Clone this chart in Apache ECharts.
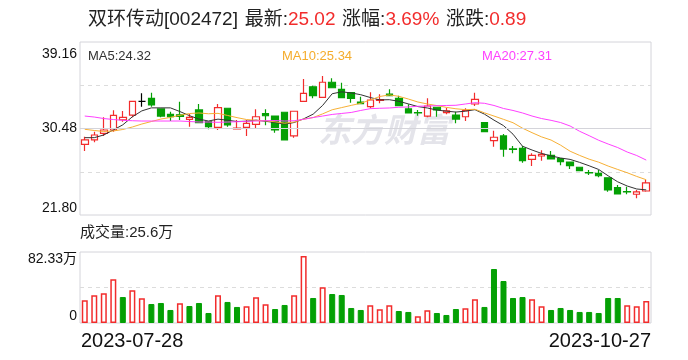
<!DOCTYPE html>
<html>
<head>
<meta charset="utf-8">
<title>双环传动 日K</title>
<script src="https://cdn.jsdelivr.net/npm/echarts@6/dist/echarts.min.js"></script>
<style>
  html, body { margin: 0; padding: 0; background: #fff; }
  #chart { width: 688px; height: 360px; }
</style>
</head>
<body>
<div id="chart"></div>
<script>
  // 交易日 2023-07-28 ~ 2023-10-27
  var dates = [
    '2023-07-28', '2023-07-31',
    '2023-08-01', '2023-08-02', '2023-08-03', '2023-08-04', '2023-08-07', '2023-08-08', '2023-08-09', '2023-08-10',
    '2023-08-11', '2023-08-14', '2023-08-15', '2023-08-16', '2023-08-17', '2023-08-18', '2023-08-21', '2023-08-22',
    '2023-08-23', '2023-08-24', '2023-08-25', '2023-08-28', '2023-08-29', '2023-08-30', '2023-08-31',
    '2023-09-01', '2023-09-04', '2023-09-05', '2023-09-06', '2023-09-07', '2023-09-08', '2023-09-11', '2023-09-12',
    '2023-09-13', '2023-09-14', '2023-09-15', '2023-09-18', '2023-09-19', '2023-09-20', '2023-09-21', '2023-09-22',
    '2023-09-25', '2023-09-26', '2023-09-27', '2023-09-28',
    '2023-10-09', '2023-10-10', '2023-10-11', '2023-10-12', '2023-10-13', '2023-10-16', '2023-10-17', '2023-10-18',
    '2023-10-19', '2023-10-20', '2023-10-23', '2023-10-24', '2023-10-25', '2023-10-26', '2023-10-27'
  ];

  var opens = [
    28.89, 29.33, 30.00, 30.33, 31.36, 31.83, 33.21, 33.51, 32.44, 31.90,
    31.86, 31.40, 32.34, 31.16, 30.60, 32.51, 30.43, 30.60, 30.90, 31.97,
    31.73, 32.11, 29.73, 33.21, 34.67, 33.61, 35.12, 34.41, 34.07, 33.14,
    32.67, 33.31, 33.94, 33.51, 32.44, 32.08, 31.73, 32.61, 32.07, 31.83,
    31.66, 32.94, 31.06, 29.26, 29.73, 28.43, 28.49, 27.39, 27.72, 27.79,
    27.45, 27.12, 26.59, 26.06, 25.98, 25.54, 24.54, 24.16, 23.88, 24.21
  ];
  var closes = [
    29.33, 29.83, 30.33, 31.80, 31.60, 33.21, 33.21, 32.84, 31.73, 31.66,
    31.70, 31.60, 31.06, 30.66, 32.57, 30.83, 30.53, 31.00, 31.66, 31.76,
    30.33, 29.33, 32.21, 34.01, 33.77, 35.12, 34.57, 33.57, 33.51, 32.97,
    33.34, 33.37, 33.77, 32.77, 32.04, 32.05, 32.74, 32.34, 32.24, 31.43,
    32.27, 33.41, 30.16, 29.60, 28.42, 28.39, 27.25, 27.79, 27.89, 27.42,
    27.15, 26.75, 26.25, 26.03, 25.74, 24.31, 23.91, 24.12, 24.13, 25.02
  ];
  var lows = [
    28.22, 29.09, 29.73, 30.16, 31.16, 31.60, 32.67, 32.67, 31.60, 31.23,
    31.33, 30.66, 31.00, 30.40, 30.33, 30.66, 30.40, 29.73, 30.50, 30.80,
    30.06, 29.33, 29.56, 33.21, 33.51, 33.61, 34.57, 33.57, 33.07, 32.97,
    32.51, 33.01, 33.77, 32.77, 32.01, 31.77, 31.60, 31.66, 31.90, 31.00,
    31.23, 32.74, 30.16, 28.65, 27.65, 28.00, 27.05, 26.72, 27.25, 27.42,
    26.79, 26.42, 26.25, 25.81, 25.58, 24.14, 23.91, 23.88, 23.47, 24.14
  ];
  var highs = [
    29.66, 30.16, 31.60, 32.30, 32.24, 33.21, 34.01, 34.07, 32.51, 32.17,
    33.17, 31.93, 32.94, 31.16, 32.94, 32.51, 31.33, 31.33, 32.41, 32.41,
    31.73, 32.11, 32.21, 35.45, 34.77, 35.75, 35.52, 35.08, 34.07, 33.67,
    34.11, 33.91, 34.41, 33.77, 32.91, 32.34, 33.51, 32.61, 32.57, 32.17,
    32.51, 34.07, 31.06, 30.26, 29.93, 28.72, 28.72, 27.99, 28.29, 28.22,
    27.45, 27.12, 26.59, 26.32, 26.32, 25.54, 24.81, 24.64, 24.31, 25.31
  ];

  var ma5 = [
    29.56, 29.56, 29.83, 30.33, 30.85, 31.65, 32.25, 32.55, 32.55, 32.55,
    32.18, 31.77, 31.42, 31.23, 31.42, 31.31, 31.18, 31.21, 31.32, 31.20,
    31.08, 30.92, 31.08, 31.45, 31.92, 32.80, 33.97, 34.16, 34.05, 33.87,
    33.59, 33.35, 33.37, 33.21, 32.95, 32.68, 32.54, 32.33, 32.22, 32.13,
    32.22, 32.37, 31.92, 31.32, 30.77, 29.91, 28.70, 28.32, 27.98, 27.73,
    27.52, 27.38, 27.08, 26.74, 26.37, 25.73, 25.13, 24.71, 24.41, 24.32
  ];
  var ma10 = [
    30.40, 30.28, 30.18, 30.23, 30.38, 30.63, 30.93, 31.18, 31.43, 31.59,
    31.81, 31.98, 32.04, 31.96, 32.00, 31.79, 31.57, 31.38, 31.30, 31.25,
    31.15, 31.01, 31.13, 31.42, 31.58, 31.95, 32.36, 32.58, 32.80, 33.01,
    33.34, 33.69, 33.85, 33.71, 33.44, 33.14, 32.94, 32.78, 32.60, 32.46,
    32.37, 32.41, 32.05, 31.73, 31.40, 31.06, 30.51, 30.06, 29.64, 29.32,
    28.81, 28.20, 27.78, 27.40, 27.10, 26.71, 26.37, 26.04, 25.67, 25.34
  ];
  var ma20 = [
    31.73, 31.63, 31.48, 31.38, 31.30, 31.26, 31.23, 31.23, 31.23, 31.23,
    31.23, 31.18, 31.13, 31.13, 31.10, 31.13, 31.16, 31.20, 31.23, 31.26,
    31.28, 31.23, 31.26, 31.40, 31.58, 31.73, 31.89, 31.99, 32.09, 32.29,
    32.47, 32.51, 32.54, 32.61, 32.64, 32.71, 32.74, 32.77, 32.79, 32.81,
    32.94, 33.07, 33.01, 32.79, 32.49, 32.29, 32.04, 31.73, 31.48, 31.30,
    31.08, 30.73, 30.20, 29.76, 29.30, 28.92, 28.57, 28.12, 27.77, 27.31
  ];

  // 成交量 (万)
  var volumes = [
    26.3, 32.1, 34.4, 50.7, 30.1, 37.9, 28.6, 22.0, 23.2, 15.1,
    22.8, 19.7, 23.2, 11.6, 32.1, 24.4, 18.6, 19.3, 29.8, 21.7,
    16.2, 20.9, 32.1, 77.7, 29.0, 41.4, 33.6, 32.5, 17.4, 15.1,
    20.5, 15.9, 20.5, 13.9, 12.8, 7.8, 14.7, 11.6, 9.3, 16.2,
    17.0, 27.5, 18.6, 62.6, 48.7, 29.0, 30.1, 27.5, 19.3, 15.1,
    17.4, 15.1, 12.8, 12.8, 11.6, 29.0, 29.0, 20.5, 19.3, 25.6
  ];

  var priceTicks = ['21.80', '30.48', '39.16'];
  var volTicks = ['0', '82.33万'];
  var stockName = '双环传动[002472]';

  var RED = '#f22c2c';
  var GREEN = '#04a004';
  var FONT = "'Liberation Sans', 'Noto Sans CJK SC', sans-serif";

  var n = closes.length;
  var priceMin = parseFloat(priceTicks[0]);
  var priceMax = parseFloat(priceTicks[2]);
  var volMax = parseFloat(volTicks[1]);

  var kData = [];
  var volData = [];
  for (var i = 0; i < n; i++) {
    kData.push([opens[i], closes[i], lows[i], highs[i]]);
    var ref = i === 0 ? opens[0] : closes[i - 1];
    var up = closes[i] >= ref;
    volData.push({
      value: volumes[i],
      itemStyle: up
        ? { color: '#fff', borderColor: RED, borderWidth: 1.5 }
        : { color: GREEN, borderColor: GREEN, borderWidth: 1 }
    });
  }

  var last = closes[n - 1];
  var prev = closes[n - 2];
  var chg = last - prev;
  var pct = chg / prev * 100;

  var chart = echarts.init(document.getElementById('chart'));

  var option = {
    animation: false,
    backgroundColor: '#fff',
    textStyle: { fontFamily: FONT },
    grid: [
      { left: 80, top: 42, width: 571, height: 173, show: true, borderColor: '#d4d4da', borderWidth: 1 },
      { left: 80, top: 252, width: 571, height: 71, show: true, borderColor: '#d4d4da', borderWidth: 1 }
    ],
    xAxis: [
      {
        type: 'category', gridIndex: 0, data: dates, boundaryGap: true,
        axisLine: { show: false }, axisTick: { show: false }, axisLabel: { show: false }, splitLine: { show: false }
      },
      {
        type: 'category', gridIndex: 1, data: dates, boundaryGap: true,
        axisLine: { show: false }, axisTick: { show: false }, axisLabel: { show: false }, splitLine: { show: false }
      }
    ],
    yAxis: [
      // 价格刻度与虚线
      {
        type: 'value', gridIndex: 0, position: 'left', min: 0, max: 4, interval: 1,
        axisLine: { show: false }, axisTick: { show: false },
        splitLine: { show: true, lineStyle: { color: ['transparent', '#dcdcdc'], type: [4, 4], width: 1 } },
        axisLabel: {
          margin: 3, fontSize: 14, color: '#111', fontFamily: FONT,
          verticalAlignMinLabel: 'bottom',
          verticalAlignMaxLabel: 'top',
          formatter: function (v) {
            if (v === 0) return priceTicks[0];
            if (v === 2) return priceTicks[1];
            if (v === 4) return '{t|' + priceTicks[2] + '}';
            return '';
          },
          rich: { t: { fontSize: 14, color: '#111', fontFamily: FONT, padding: [5, 0, 0, 0] } }
        }
      },
      {
        type: 'value', gridIndex: 0, position: 'right', min: priceMin, max: priceMax, scale: true,
        show: false, splitLine: { show: false }
      },
      // 成交量刻度
      {
        type: 'value', gridIndex: 1, position: 'left', min: 0, max: 2, interval: 1,
        axisLine: { show: false }, axisTick: { show: false },
        splitLine: { show: true, lineStyle: { color: ['transparent', '#dcdcdc'], type: [4, 4], width: 1 } },
        axisLabel: {
          margin: 3, fontSize: 14, color: '#111', fontFamily: FONT,
          verticalAlignMinLabel: 'bottom',
          verticalAlignMaxLabel: 'top',
          formatter: function (v) {
            if (v === 0) return volTicks[0];
            if (v === 2) return volTicks[1];
            return '';
          }
        }
      },
      {
        type: 'value', gridIndex: 1, position: 'right', min: 0, max: volMax,
        show: false, splitLine: { show: false }
      }
    ],
    graphic: [
      {
        type: 'text', left: 88, top: 10, z: 10,
        style: {
          text: '{k|' + stockName + '}  {k|最新:}{v|' + last.toFixed(2) + '}  {k|涨幅:}{v|' + pct.toFixed(2) + '%}  {k|涨跌:}{v|' + chg.toFixed(2) + '}',
          rich: {
            k: { fontSize: 19, fill: '#222', fontFamily: FONT },
            v: { fontSize: 19, fill: RED, fontFamily: FONT }
          }
        }
      },
      { type: 'text', left: 88, top: 50, z: 10, style: { text: 'MA5:' + ma5[n - 1].toFixed(2), fontSize: 13, fill: '#333', fontFamily: FONT } },
      { type: 'text', left: 282, top: 50, z: 10, style: { text: 'MA10:' + ma10[n - 1].toFixed(2), fontSize: 13, fill: '#f5ac2c', fontFamily: FONT } },
      { type: 'text', left: 482, top: 50, z: 10, style: { text: 'MA20:' + ma20[n - 1].toFixed(2), fontSize: 13, fill: '#ff40ff', fontFamily: FONT } },
      { type: 'text', left: 80, top: 225, z: 10, style: { text: '成交量:' + volumes[n - 1] + '万', fontSize: 15, fill: '#222', fontFamily: FONT } },
      // 起止日期
      { type: 'text', left: 81, top: 331, z: 10, style: { text: dates[0], fontSize: 20, fill: '#111', fontFamily: FONT } },
      { type: 'text', right: 37, top: 331, z: 10, style: { text: dates[n - 1], fontSize: 20, fill: '#111', fontFamily: FONT } },
      // 水印
      {
        type: 'text', left: 318, top: 113, z: 0,
        style: { text: '东方财富', fontSize: 33, fontWeight: 'bold', fontStyle: 'italic', fill: '#e4e4ea', fontFamily: "'Noto Sans CJK SC', sans-serif" }
      }
    ],
    series: [
      {
        name: 'K', type: 'candlestick', xAxisIndex: 0, yAxisIndex: 1,
        data: kData, barWidth: 7, z: 3,
        itemStyle: {
          color: '#fff', color0: GREEN,
          borderColor: RED, borderColor0: GREEN, borderColorDoji: '#000',
          borderWidth: 1.2
        },
        markLine: {
          silent: true, symbol: 'none', label: { show: false },
          lineStyle: { color: '#d4d4da', type: 'solid', width: 1 },
          data: [{ yAxis: parseFloat(priceTicks[1]) }]
        }
      },
      { name: 'MA5', type: 'line', xAxisIndex: 0, yAxisIndex: 1, data: ma5, showSymbol: false, z: 4, lineStyle: { color: '#333', width: 1 } },
      { name: 'MA10', type: 'line', xAxisIndex: 0, yAxisIndex: 1, data: ma10, showSymbol: false, z: 4, lineStyle: { color: '#f7b035', width: 1 } },
      { name: 'MA20', type: 'line', xAxisIndex: 0, yAxisIndex: 1, data: ma20, showSymbol: false, z: 4, lineStyle: { color: '#ff40ff', width: 1 } },
      { name: 'VOL', type: 'bar', xAxisIndex: 1, yAxisIndex: 3, data: volData, barWidth: 6 }
    ]
  };

  chart.setOption(option);
</script>
</body>
</html>
